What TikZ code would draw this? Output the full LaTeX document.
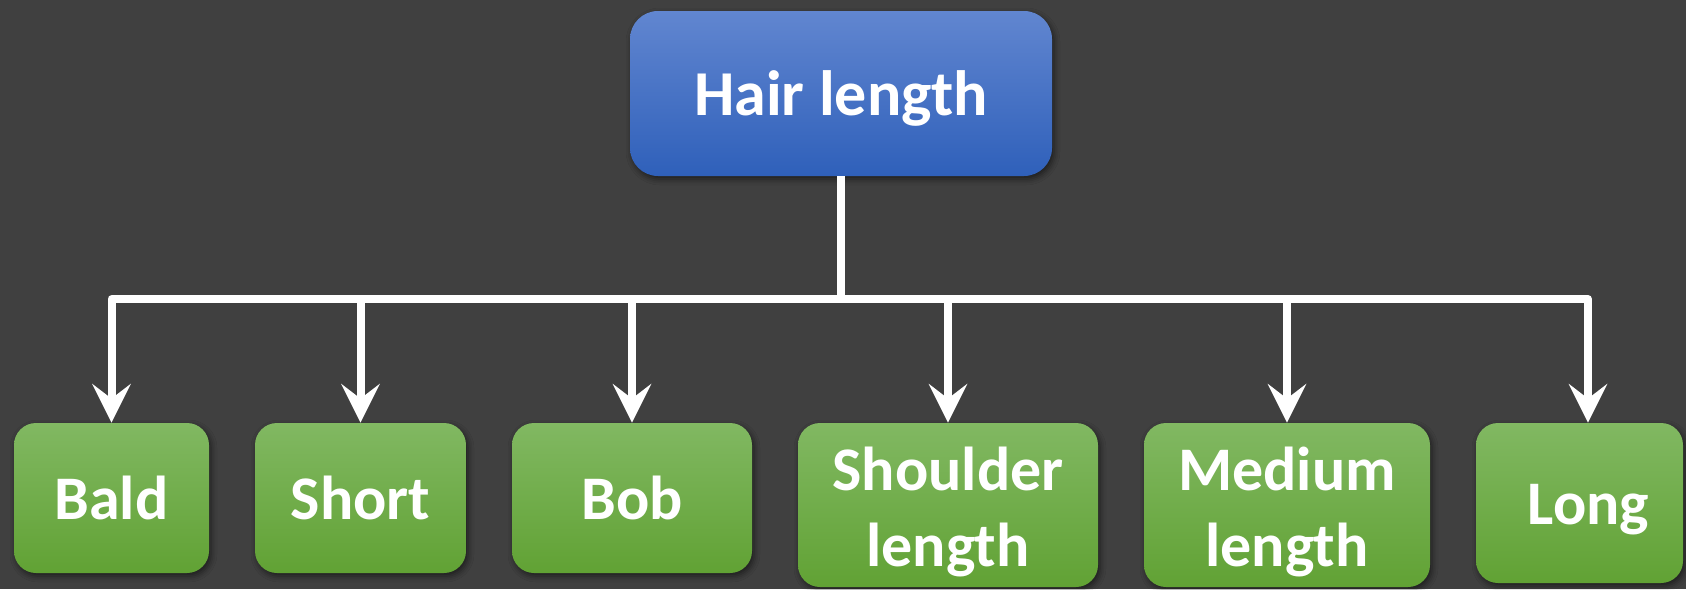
\documentclass[tikz,border=0pt]{standalone}
\usepackage{fontspec}
\setmainfont{Carlito}
\usetikzlibrary{arrows.meta,shadows.blur}
\definecolor{bg}{RGB}{64,64,64}
\definecolor{bluetop}{RGB}{97,134,208}
\definecolor{bluebot}{RGB}{47,96,186}
\definecolor{greentop}{RGB}{129,184,98}
\definecolor{greenbot}{RGB}{97,162,52}
\newcommand{\firstline}{\rule{0pt}{29pt}}
\tikzset{
  shad/.style={blur shadow={shadow xshift=1pt, shadow yshift=-1.5pt, shadow blur radius=3pt, shadow opacity=55}},
  rootbox/.style={shad, rectangle, rounded corners=14pt, top color=bluetop, bottom color=bluebot,
    draw=none, text=white, font=\fontsize{32}{38}\selectfont\bfseries,
    minimum width=211pt, minimum height=82.5pt, inner sep=0pt, align=center,
    text height=21.5pt, text depth=0pt},
  leafbox/.style={shad, rectangle, rounded corners=11pt, top color=greentop, bottom color=greenbot,
    draw=none, text=white, font=\fontsize{31}{38}\selectfont\bfseries,
    minimum height=75pt, inner sep=0pt, align=center},
  oneline/.style={text height=21pt, text depth=0pt},
  conn/.style={draw=white, line width=4pt, line join=round,
    -{Stealth[length=19.5pt, width=19.5pt, inset=7.5pt, line width=0pt]}},
}
\begin{document}
\begin{tikzpicture}[x=0.5pt, y=-0.5pt]
\fill[bg] (0,0) rectangle (1686,589);
\useasboundingbox (0,0) rectangle (1686,589);
\clip (0,0) rectangle (1686,589);

\node[rootbox] (top) at (841,93.5) {Hair length};

\node[leafbox, oneline, minimum width=97.5pt] (bald) at (111.5,498) {Bald};
\node[leafbox, oneline, minimum width=105.5pt] (short) at (360.5,498) {Short};
\node[leafbox, oneline, minimum width=120pt] (bob) at (632,498) {Bob};
\node[leafbox, minimum width=150pt, minimum height=82pt] (shoulder) at (948,505) {\firstline Shoulder\\length};
\node[leafbox, minimum width=143pt, minimum height=82pt] (medium) at (1287,505) {\firstline Medium\\length};
\node[leafbox, oneline, minimum width=103.5pt, minimum height=80pt] (long) at (1579.5,503) {\hspace*{9pt}Long};

\coordinate (bar) at (841,299);

\draw[conn] (top.south) -- (bar) -| (bald.north);
\draw[conn] (top.south) -- (bar) -| (short.north);
\draw[conn] (top.south) -- (bar) -| (bob.north);
\draw[conn] (top.south) -- (bar) -| (shoulder.north);
\draw[conn] (top.south) -- (bar) -| (medium.north);
\draw[conn] (top.south) -- (bar) -| ([xshift=4.25pt]long.north);
\end{tikzpicture}
\end{document}
